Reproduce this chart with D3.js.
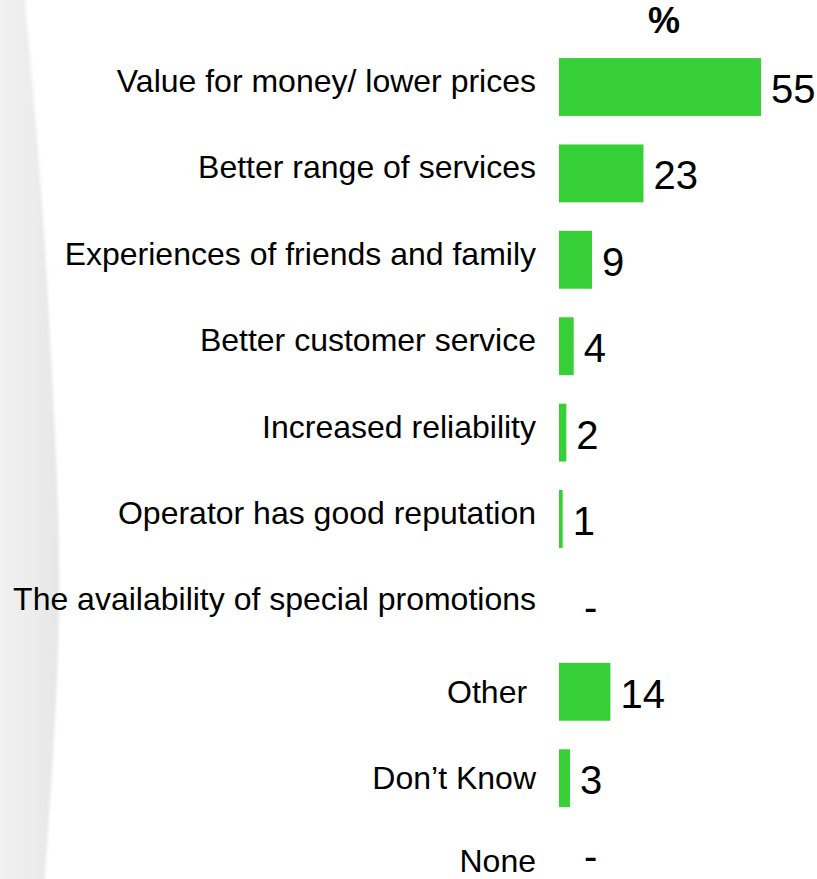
<!DOCTYPE html>
<html>
<head>
<meta charset="utf-8">
<script src="https://cdn.jsdelivr.net/npm/d3@7"></script>
<style>
  html, body { margin: 0; padding: 0; background: #ffffff; }
  svg { display: block; }
  text { font-family: "Liberation Sans", Arial, Helvetica, sans-serif; fill: #000; white-space: pre; }
</style>
</head>
<body>
<div id="chart"></div>
<script>
const categories = [
  "Value for money/ lower prices",
  "Better range of services",
  "Experiences of friends and family",
  "Better customer service",
  "Increased reliability",
  "Operator has good reputation",
  "The availability of special promotions",
  "Other ",
  "Don\u2019t Know",
  "None"
];
const values = [55, 23, 9, 4, 2, 1, 0, 14, 3, 0];
const unitLabel = "%";
// the last three answers sit in their own, slightly lower label block
const residualAnswers = ["Other ", "Don\u2019t Know", "None"];

const W = 817, H = 879;
const svg = d3.select("#chart").append("svg").attr("width", W).attr("height", H);

// soft grey curved backdrop on the left
const defs = svg.append("defs");
const grad = defs.append("linearGradient").attr("id", "bg")
  .attr("gradientUnits", "userSpaceOnUse")
  .attr("x1", 0).attr("x2", 60).attr("y1", 0).attr("y2", 0);
grad.append("stop").attr("offset", "0%").attr("stop-color", "#f2f2f2");
grad.append("stop").attr("offset", "60%").attr("stop-color", "#ebebeb");
grad.append("stop").attr("offset", "100%").attr("stop-color", "#e6e6e6");
const blur = defs.append("filter").attr("id", "soft").attr("x", "-20%").attr("y", "-5%").attr("width", "140%").attr("height", "110%");
blur.append("feGaussianBlur").attr("stdDeviation", 1.6);
svg.append("path")
  .attr("d", "M-5,-10 L24,-10 C36,120 44,220 48,300 C55,430 60,520 59,600 C58,700 50,800 44,890 L-5,890 Z")
  .attr("fill", "url(#bg)")
  .attr("filter", "url(#soft)");

const x = d3.scaleLinear().domain([0, 55]).range([559, 761]);
const y = d3.scaleBand().domain(categories).range([43.8, 907.8]).paddingInner(0.33).paddingOuter(0.165);

const data = categories.map((c, i) => ({ c, v: values[i] }));
const mid = d => y(d.c) + y.bandwidth() / 2;
const catSize = 32, valSize = 40;

// header
svg.append("text")
  .attr("x", 664).attr("y", 33)
  .attr("text-anchor", "middle")
  .attr("font-size", 36).attr("font-weight", "bold")
  .text(unitLabel);

// bars
svg.selectAll("rect.bar").data(data.filter(d => d.v > 0)).join("rect")
  .attr("class", "bar")
  .attr("x", x(0))
  .attr("y", d => y(d.c))
  .attr("width", d => Math.max(3.7, x(d.v) - x(0)))
  .attr("height", y.bandwidth())
  .attr("fill", "#38d038");

// category labels
svg.selectAll("text.cat").data(data).join("text")
  .attr("class", "cat")
  .attr("x", 536)
  .attr("y", d => Math.min(mid(d) + (residualAnswers.includes(d.c) ? 11 : 5), H - 0.215 * catSize))
  .attr("text-anchor", "end")
  .attr("font-size", catSize)
  .text(d => d.c);

// value labels
svg.selectAll("text.val").data(data).join("text")
  .attr("class", "val")
  .attr("x", d => d.v > 0 ? x(d.v) + 10 : x(0) + 25)
  .attr("y", d => Math.min(mid(d) + 16, H - 0.215 * valSize))
  .attr("font-size", valSize)
  .text(d => d.v > 0 ? d.v : "-");
</script>
</body>
</html>
